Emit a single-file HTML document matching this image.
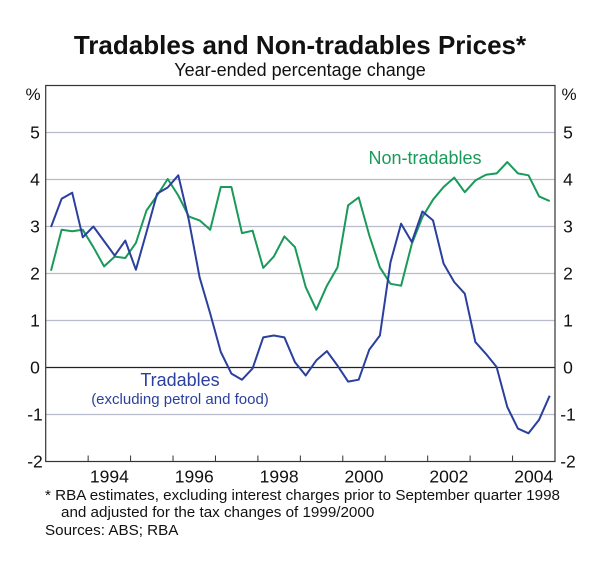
<!DOCTYPE html>
<html><head><meta charset="utf-8"><style>
body{margin:0;background:#fff;}
svg text{font-family:"Liberation Sans",Arial,sans-serif;}
</style></head><body>
<svg width="600" height="560" viewBox="0 0 600 560" id="chart">
<text x="300" y="54" text-anchor="middle" font-size="26" font-weight="bold" fill="#111">Tradables and Non-tradables Prices*</text>
<text x="300" y="76" text-anchor="middle" font-size="18" fill="#111">Year-ended percentage change</text>
<text x="33" y="100" text-anchor="middle" font-size="17" fill="#111">%</text>
<text x="569" y="100" text-anchor="middle" font-size="17" fill="#111">%</text>
<g id="grid"></g>
<g id="axes"></g>
<g id="series"></g>
<text x="425" y="164" text-anchor="middle" font-size="18" fill="#1a9a5a">Non-tradables</text>
<text x="180" y="386" text-anchor="middle" font-size="18" fill="#2b3f9e">Tradables</text>
<text x="180" y="404" text-anchor="middle" font-size="15" fill="#2b3f9e">(excluding petrol and food)</text>
<text x="45" y="500" font-size="15.2" fill="#111">*  RBA estimates, excluding interest charges prior to September quarter 1998</text>
<text x="61" y="517" font-size="15.2" fill="#111">and adjusted for the tax changes of 1999/2000</text>
<text x="45" y="535" font-size="15.2" fill="#111">Sources: ABS; RBA</text>
</svg>
<script>
const yTicks=[-2,-1,0,1,2,3,4,5];
const xLabels=[1994,1996,1998,2000,2002,2004];
const tradables=[2.99,3.59,3.72,2.77,3.0,2.69,2.38,2.70,2.08,2.88,3.70,3.83,4.09,3.13,1.92,1.15,0.33,-0.13,-0.26,-0.02,0.64,0.68,0.64,0.11,-0.17,0.15,0.35,0.04,-0.30,-0.26,0.38,0.68,2.24,3.06,2.67,3.32,3.13,2.21,1.82,1.57,0.54,0.29,0.01,-0.84,-1.30,-1.40,-1.11,-0.60];
const nonTradables=[2.06,2.93,2.90,2.93,2.56,2.15,2.36,2.33,2.65,3.34,3.66,4.01,3.66,3.21,3.13,2.93,3.84,3.84,2.86,2.91,2.12,2.36,2.79,2.56,1.71,1.23,1.74,2.13,3.45,3.62,2.81,2.13,1.78,1.74,2.63,3.20,3.57,3.84,4.04,3.73,3.98,4.10,4.13,4.37,4.13,4.09,3.64,3.54];
const startYear=1993;
const L=45.7,R=555,T=85.5,B=461.5,x0=1993,x1=2005,yMin=-2,yMax=6;
const NS='http://www.w3.org/2000/svg';
function xs(t){return L+(t-x0)/(x1-x0)*(R-L);}
function ys(v){return B-(v-yMin)/(yMax-yMin)*(B-T);}
function mk(tag,attrs,parent){const e=document.createElementNS(NS,tag);for(const k in attrs)e.setAttribute(k,attrs[k]);parent.appendChild(e);return e;}
const grid=document.getElementById('grid'),axes=document.getElementById('axes'),series=document.getElementById('series');
yTicks.forEach(v=>{
  if(v>-2){const g=mk('line',{x1:L,x2:R,y1:ys(v),y2:ys(v),stroke:v===0?'#222':'#b8bccc','stroke-width':1.2},grid);
  
  }
  const a=mk('text',{x:35,y:ys(v)+6,'text-anchor':'middle','font-size':17.5,fill:'#111'},axes);a.textContent=v;
  
  
  const b=mk('text',{x:568,y:ys(v)+6,'text-anchor':'middle','font-size':17.5,fill:'#111'},axes);b.textContent=v;
  
  
});
const frame=mk('rect',{x:L,y:T,width:R-L,height:B-T,fill:'none',stroke:'#333','stroke-width':1.2},axes);


for(let yr=1994;yr<2005;yr++){const t=mk('line',{x1:xs(yr),x2:xs(yr),y1:B,y2:B-6,stroke:'#333','stroke-width':1},axes);
  
  }
xLabels.forEach(yr=>{const t=mk('text',{x:xs(yr+0.5),y:B+21,'text-anchor':'middle','font-size':17.5,fill:'#111'},axes);t.textContent=yr;
  
  });
function path(arr){return arr.map((v,i)=>(i?'L':'M')+xs(startYear+(i+0.5)/4).toFixed(1)+' '+ys(v).toFixed(1)).join(' ');}
const pn=mk('path',{d:path(nonTradables),fill:'none',stroke:'#1a9a5a','stroke-width':2,'stroke-linejoin':'round'},series);


const pt=mk('path',{d:path(tradables),fill:'none',stroke:'#2b3f9e','stroke-width':2,'stroke-linejoin':'round'},series);


</script>
</body></html>
